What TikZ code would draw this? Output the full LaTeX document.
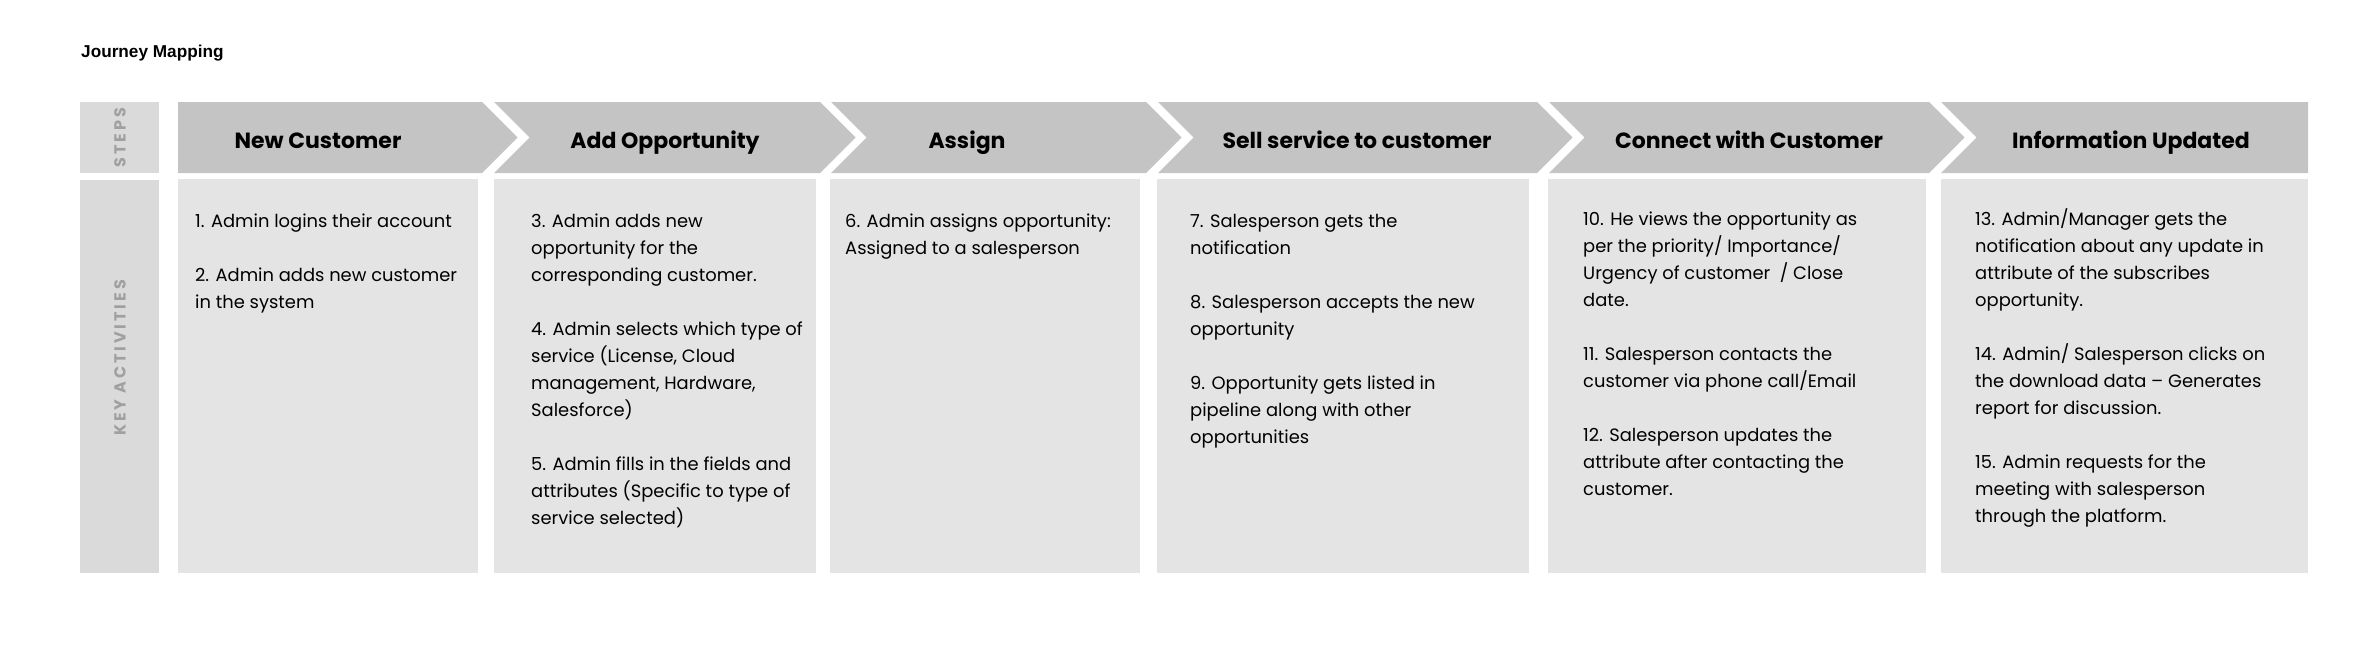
\documentclass[tikz,border=0pt]{standalone}
\usepackage{fontspec}
\setmainfont{Poppins}
\newfontfamily\titlefont{Liberation Sans}
\usetikzlibrary{positioning}

\definecolor{headgray}{HTML}{C4C4C4}
\definecolor{cardgray}{HTML}{E4E4E4}
\definecolor{sidegray}{HTML}{DADADA}
\definecolor{sidetext}{HTML}{A0A0A0}

\tikzset{
    steplabel/.style={font=\bfseries\fontsize{22}{22}\selectfont, anchor=base, inner sep=0pt},
    activity/.style={font=\fontsize{17.9}{27}\selectfont, align=left, anchor=north west, inner sep=0pt},
    sidelabel/.style={font=\bfseries\fontsize{16}{16}\selectfont\addfontfeature{LetterSpace=18},
        text=sidetext, rotate=90, inner sep=0pt},
}

\begin{document}
\begin{tikzpicture}[x=1pt, y=-1pt]
    \useasboundingbox (0,0) rectangle (2371,654);

    % Title
    \node[font=\titlefont\bfseries\fontsize{17.2}{17.2}\selectfont, anchor=base west, inner sep=0pt]
        (title) at (81,57.5) {Journey Mapping};

    % Row headers (left column)
    \fill[sidegray] (80,102) rectangle (159,173);
    \fill[sidegray] (80,180) rectangle (159,573);
    \node[sidelabel] (steps) at (120,137.5) {STEPS};
    \node[sidelabel] (keyact) at (120,358) {KEY ACTIVITIES};

    % Step chevrons: flat start, notched middles, flat end
    \fill[headgray] (178,102) -- (482,102) -- (517.5,137.5) -- (482,173) -- (178,173) -- cycle;
    \foreach \l/\r in {494/820, 831/1146, 1158/1537, 1549/1929}
        \fill[headgray] (\l,102) -- (\r,102) -- (\r+35.5,137.5) -- (\r,173) -- (\l,173) -- (\l+35.5,137.5) -- cycle;
    \fill[headgray] (1941,102) -- (2308,102) -- (2308,173) -- (1941,173) -- (1976.5,137.5) -- cycle;

    \foreach \cx/\lbl [count=\i] in {318/New Customer, 665/Add Opportunity, 967/Assign,
        1357/Sell service to customer, 1749/Connect with Customer, 2131/Information Updated}
        \node[steplabel] (step\i) at (\cx,148) {\lbl};

    % Activity cards
    \foreach \l/\r in {178/478, 494/816, 830/1140, 1157/1529, 1548/1926, 1941/2308}
        \fill[cardgray] (\l,179) rectangle (\r,573);

    \node[activity] (act1) at (195,208.1) {\strut 1. Admin logins their account\\[27pt]
        2. Admin adds new customer\\ in the system};
    \node[activity] (act2) at (531,208.1) {\strut 3. Admin adds new\\ opportunity for the\\ corresponding customer.\\[27pt]
        4. Admin selects which type of\\ service (License, Cloud\\ management, Hardware,\\ Salesforce)\\[27pt]
        5. Admin fills in the fields and\\ attributes (Specific to type of\\ service selected)};
    \node[activity] (act3) at (845,208.1) {\strut 6. Admin assigns opportunity:\\ Assigned to a salesperson};
    \node[activity] (act4) at (1190,208.1) {\strut 7. Salesperson gets the\\ notification\\[27pt]
        8. Salesperson accepts the new\\ opportunity\\[27pt]
        9. Opportunity gets listed in\\ pipeline along with other\\ opportunities};
    \node[activity] (act5) at (1583,206.5) {\strut 10. He views the opportunity as\\ per the priority/ Importance/\\ Urgency of customer~ / Close\\ date.\\[27pt]
        11. Salesperson contacts the\\ customer via phone call/Email\\[27pt]
        12. Salesperson updates the\\ attribute after contacting the\\ customer.};
    \node[activity] (act6) at (1975,206.5) {\strut 13. Admin/Manager gets the\\ notification about any update in\\ attribute of the subscribes\\ opportunity.\\[27pt]
        14. Admin/ Salesperson clicks on\\ the download data – Generates\\ report for discussion.\\[27pt]
        15. Admin requests for the\\ meeting with salesperson\\ through the platform.};
\end{tikzpicture}
\end{document}
